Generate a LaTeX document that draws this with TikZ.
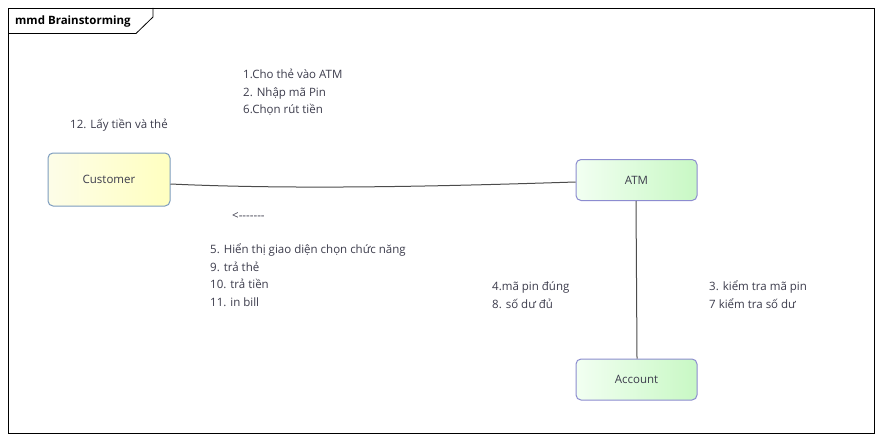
\documentclass[tikz,border=0pt]{standalone}
\usepackage{fontspec}
\setmainfont{Open Sans}
\definecolor{txt}{HTML}{3C3C4C}
\definecolor{custborder}{HTML}{7C9CBF}
\definecolor{atmborder}{HTML}{8C8CD0}
\definecolor{yelL}{HTML}{FDFDE8}
\definecolor{yelR}{HTML}{FFFFC0}
\definecolor{grnL}{HTML}{F2FFF2}
\definecolor{grnR}{HTML}{C8F8C4}
\tikzset{
  lbl/.style={anchor=base west, inner sep=0pt, text=txt, font=\fontsize{11.5}{14}\selectfont},
  cbox/.style={draw=custborder, line width=1pt, rounded corners=5pt, left color=yelL, right color=yelR, minimum width=122pt, minimum height=53pt, text=txt, font=\fontsize{11.5}{14}\selectfont},
  gbox/.style={draw=atmborder, line width=1pt, rounded corners=5pt, left color=grnL, right color=grnR, minimum width=121pt, minimum height=41pt, text=txt, font=\fontsize{11.5}{14}\selectfont},
  conn/.style={draw=black!70, line width=1pt}
}
\begin{document}
\begin{tikzpicture}[x=1pt,y=-1pt]
\useasboundingbox (0,0) rectangle (882,441);
\fill[white] (0,0) rectangle (882,441);
% frame
\draw[line width=0.8pt] (8,8) rectangle (874,433);
\draw[line width=0.8pt] (8,33.5) -- (136,33.5) -- (153,17) -- (153,8);
\node[anchor=base west, inner sep=0pt, font=\bfseries\fontsize{11.5}{14}\selectfont] (title) at (15,24.5) {mmd Brainstorming};
% boxes
\node[cbox] (cust) at (109,179.5) {Customer};
\node[gbox] (atm) at (636.5,180) {ATM};
\node[gbox] (acc) at (636.5,379.5) {Account};
% connectors
\draw[conn] (cust.east |- 0,184) .. controls (300,190) and (450,186) .. (atm.west |- 0,182);
\draw[conn] (atm.south -| 636,0) -- (acc.north -| 637,0);
% labels
\node[lbl] (l1) at (243,78.5) {1.Cho thẻ vào ATM};
\node[lbl] (l2) at (243,96) {2. Nhập mã Pin};
\node[lbl] (l6) at (243,113.5) {6.Chọn rút tiền};
\node[lbl] (l12) at (70,128.5) {12. Lấy tiền và thẻ};
\node[lbl] (arr) at (232,219.5) {<-{}-{}-{}-{}-{}-{}-};
\node[lbl] (l5) at (210,253.5) {5. Hiển thị giao diện chọn chức năng};
\node[lbl] (l9) at (210,271) {9. trả thẻ};
\node[lbl] (l10) at (210,288.5) {10. trả tiền};
\node[lbl] (l11) at (210,306) {11. in bill};
\node[lbl] (l4) at (492,290.5) {4.mã pin đúng};
\node[lbl] (l8) at (492,308) {8. số dư đủ};
\node[lbl] (l3) at (709,290.5) {3. kiểm tra mã pin};
\node[lbl] (l7) at (709,308) {7 kiểm tra số dư};
\end{tikzpicture}
\end{document}
